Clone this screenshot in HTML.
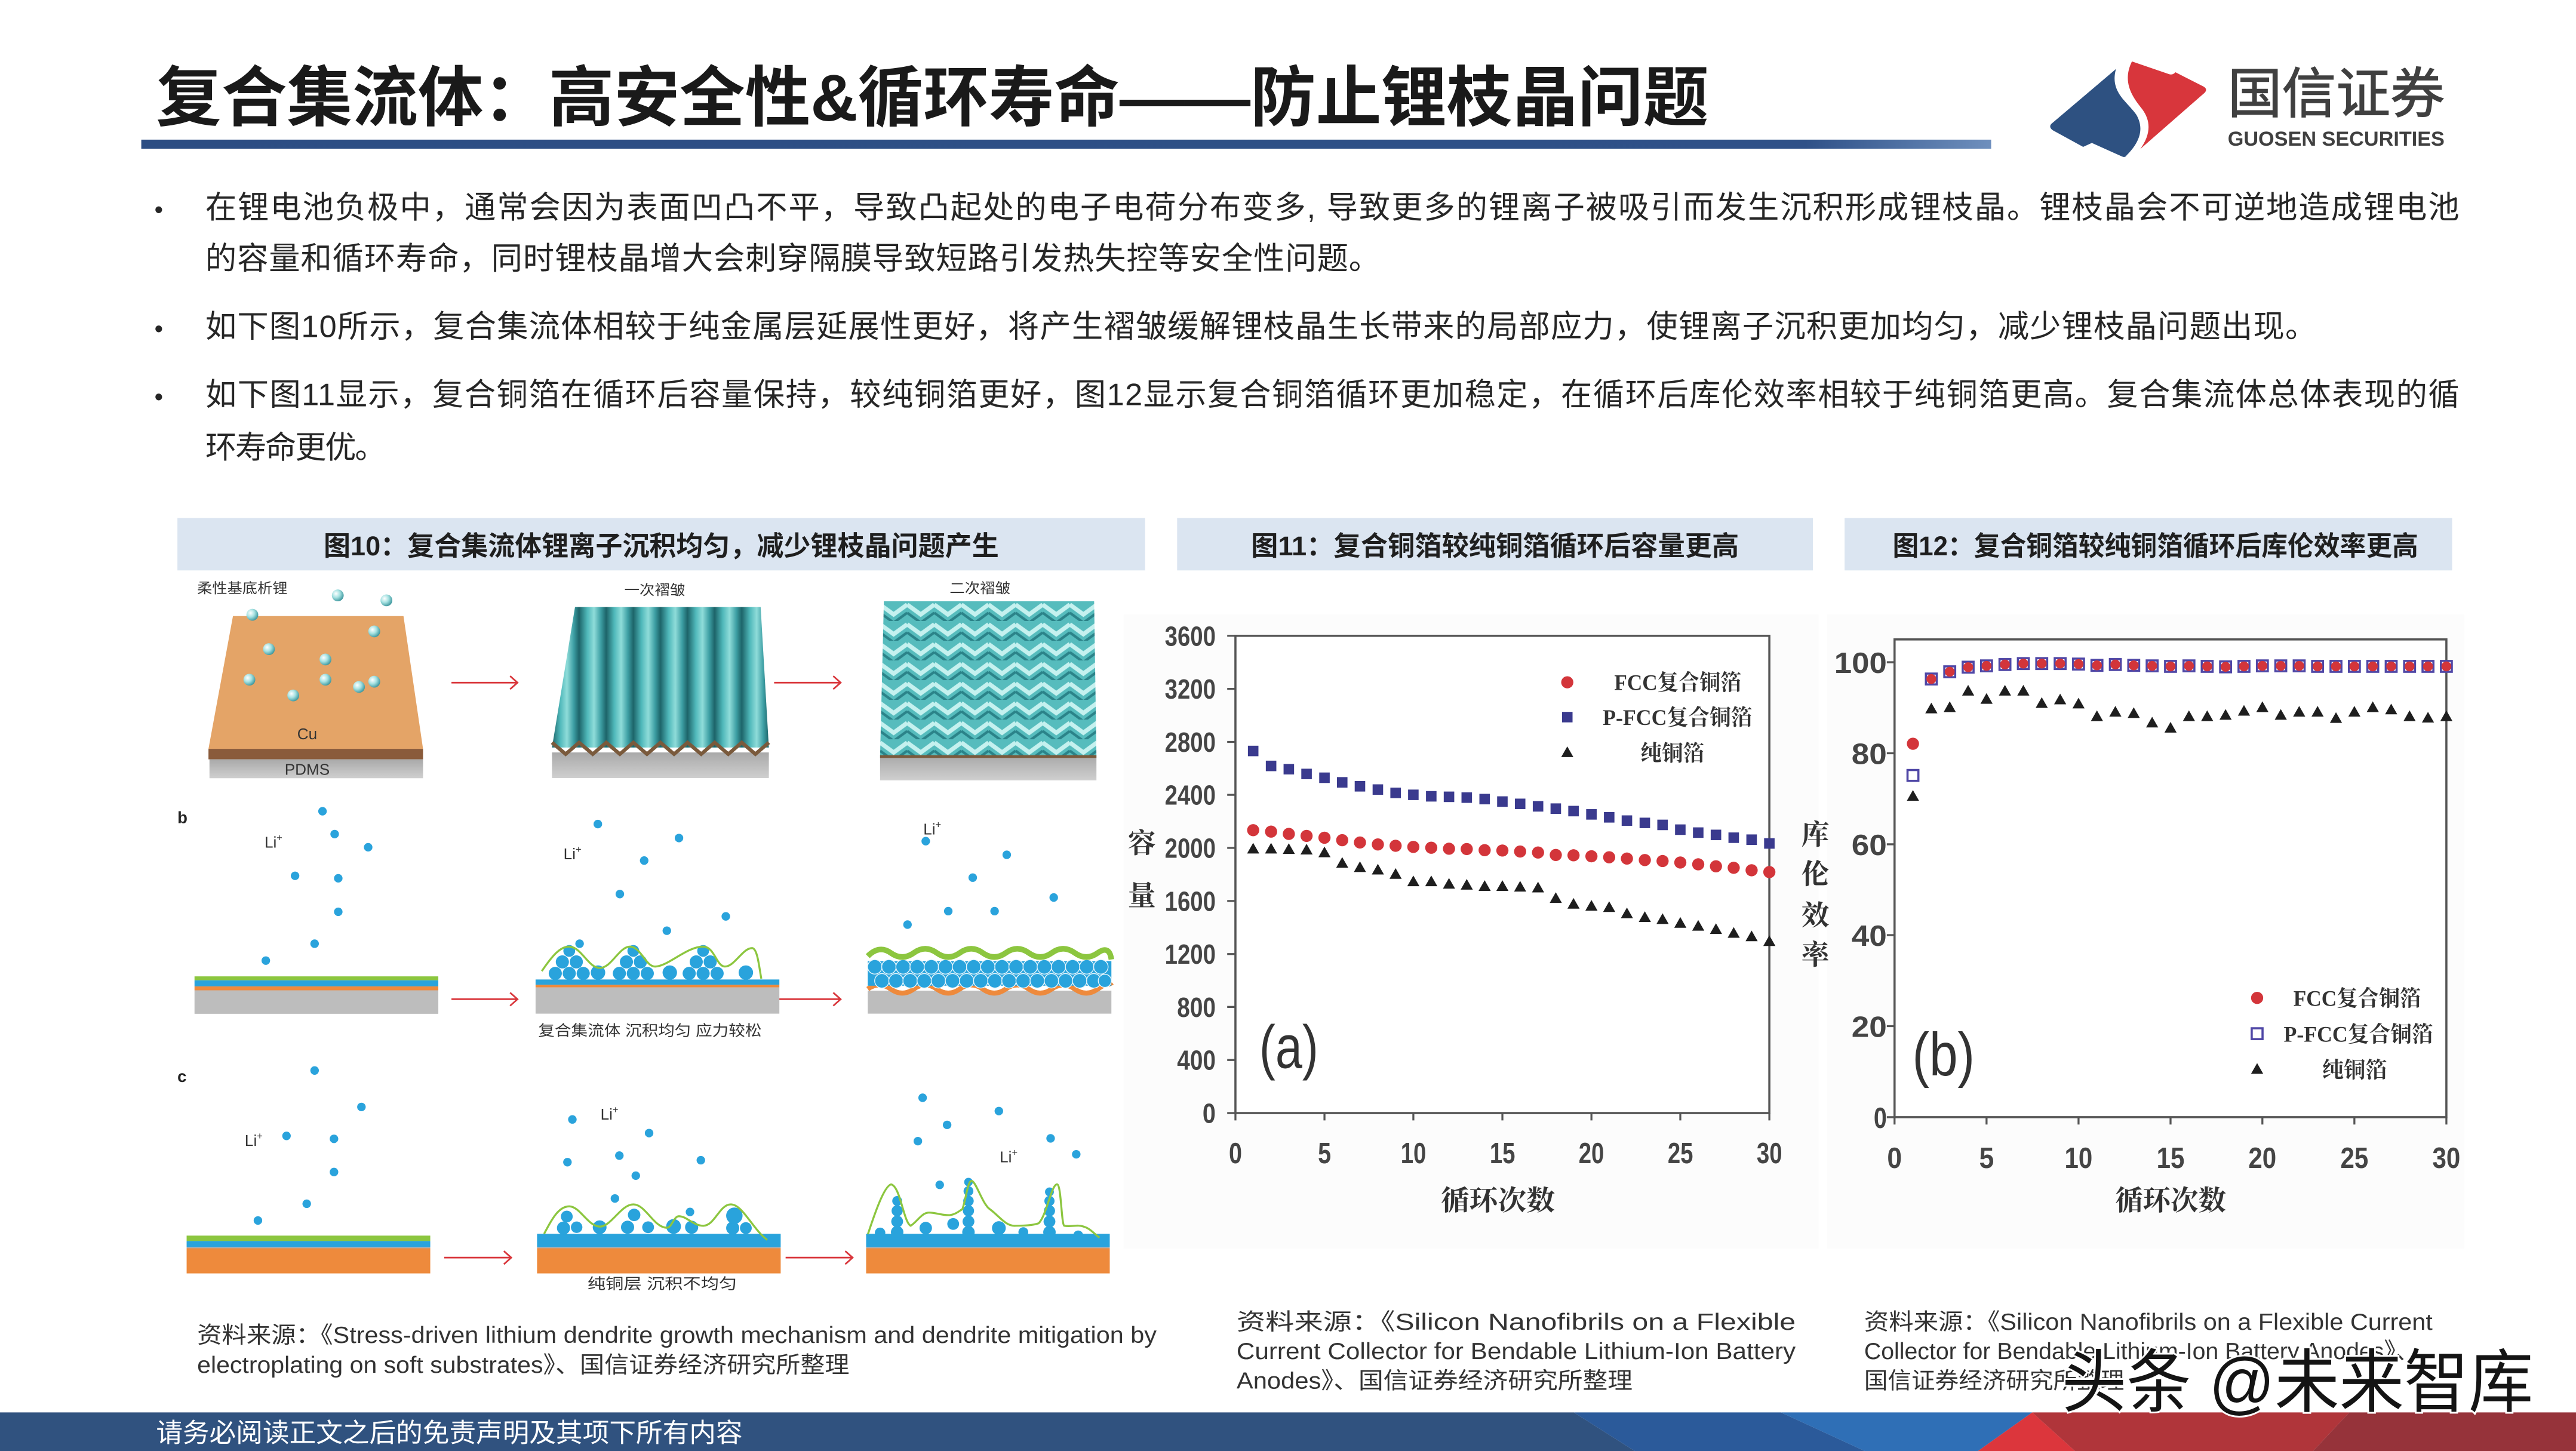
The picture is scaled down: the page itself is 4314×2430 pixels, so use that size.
<!DOCTYPE html>
<html><head><meta charset="utf-8">
<style>
html,body{margin:0;padding:0;background:#fff;}
body{width:4314px;height:2430px;overflow:hidden;}
svg{display:block;}
.cn{font-family:"Liberation Sans","Noto Sans CJK SC",sans-serif;}
.sf{font-family:"Liberation Serif","Noto Serif CJK SC",serif;font-weight:bold;}
.ax{font-family:"Liberation Sans",sans-serif;font-weight:bold;fill:#454545;}
</style></head>
<body>
<svg xmlns="http://www.w3.org/2000/svg" width="4314" height="2430" viewBox="0 0 1568 883.2" preserveAspectRatio="none">
<defs>
  <linearGradient id="bar" x1="0" x2="1" y1="0" y2="0">
    <stop offset="0" stop-color="#2c4d83"/><stop offset="0.9" stop-color="#2f5188"/><stop offset="1" stop-color="#6e8fbd"/>
  </linearGradient>
  <radialGradient id="ball" cx="0.35" cy="0.35" r="0.75">
    <stop offset="0" stop-color="#ffffff"/><stop offset="0.45" stop-color="#a6e2e2"/><stop offset="1" stop-color="#2c8a92"/>
  </radialGradient>
  <linearGradient id="ridge" gradientUnits="userSpaceOnUse" x1="336" y1="0" x2="352.5" y2="0" spreadMethod="repeat">
    <stop offset="0" stop-color="#1d6469"/><stop offset="0.3" stop-color="#4fb8ba"/><stop offset="0.55" stop-color="#8fdcd9"/><stop offset="0.8" stop-color="#3d9fa4"/><stop offset="1" stop-color="#1d6469"/>
  </linearGradient>
  <linearGradient id="grayb" x1="0" x2="0" y1="0" y2="1">
    <stop offset="0" stop-color="#a9a9a9"/><stop offset="1" stop-color="#cfcfcf"/>
  </linearGradient>
  <pattern id="chev" patternUnits="userSpaceOnUse" x="535.7" y="366" width="16.5" height="12">
    <rect width="16.5" height="12" fill="#56bcbd"/>
    <path d="M0,2 L8.25,8 L16.5,2" stroke="#c5f1ef" stroke-width="2.6" fill="none"/>
    <path d="M0,7 L8.25,13 L16.5,7" stroke="#2b8389" stroke-width="1.6" fill="none"/>
  </pattern>
  <g id="ca"><circle r="3.7" fill="#d3353a"/></g>
  <g id="sa"><rect x="-3.2" y="-3.2" width="6.4" height="6.4" fill="#3a3a8e"/></g>
  <g id="ta"><path d="M0,-3.9 L3.7,2.6 L-3.7,2.6 Z" fill="#1e1e1e"/></g>
  <g id="cb"><circle r="3" fill="#d3353a"/></g>
  <g id="sb"><rect x="-3.3" y="-3.3" width="6.6" height="6.6" fill="none" stroke="#4f47a6" stroke-width="1.3"/></g>
  <g id="bd"><circle r="2.6" fill="#2aa3dc"/></g>
  <g id="bl"><circle r="3.6" fill="url(#ball)"/></g>
</defs>

<rect x="0" y="0" width="1568" height="883.2" fill="#ffffff"/>

<!-- Title -->
<text class="cn" x="95" y="73.5" font-size="40" font-weight="bold" fill="#1a1a1a" textLength="945" lengthAdjust="spacingAndGlyphs">复合集流体：高安全性&amp;循环寿命——防止锂枝晶问题</text>
<rect x="86" y="85" width="1126" height="5.5" fill="url(#bar)"/>

<!-- Logo -->
<path d="M1288,42 L1248.5,75.5 Q1247,77.5 1249.5,79.3 L1268,89.4 L1273.3,87 L1291.5,95.2 Q1293.5,96.2 1294.5,94.5 C1303,86 1305,78 1300.5,70 C1295,62 1284,56 1288,42 Z" fill="#2e5181"/>
<path d="M1297.7,37.4 L1320.5,45.2 Q1322.5,45.8 1324.2,44 L1341.5,52.8 Q1344,54.5 1341.8,56.6 L1302.8,90.7 C1309,82 1309.5,74 1304,66.5 C1298,59 1291.5,50 1297.7,37.4 Z" fill="#d8363c"/>
<text class="cn" x="1356" y="68.5" font-size="33" fill="#404040" stroke="#404040" stroke-width="0.5" textLength="132" lengthAdjust="spacingAndGlyphs">国信证券</text>
<text x="1356" y="88.6" font-family="Liberation Sans, sans-serif" font-weight="bold" font-size="12.5" fill="#404040" textLength="132" lengthAdjust="spacingAndGlyphs">GUOSEN SECURITIES</text>

<!-- Bullets -->
<g class="cn" font-size="19" fill="#262626">
  <text x="94" y="132.7" font-size="15">•</text>
  <text x="125" y="132.7" textLength="1372">在锂电池负极中，通常会因为表面凹凸不平，导致凸起处的电子电荷分布变多, 导致更多的锂离子被吸引而发生沉积形成锂枝晶。锂枝晶会不可逆地造成锂电池</text>
  <text x="125" y="163.7" textLength="715">的容量和循环寿命，同时锂枝晶增大会刺穿隔膜导致短路引发热失控等安全性问题。</text>
  <text x="94" y="205.2" font-size="15">•</text>
  <text x="125" y="205.2" textLength="1285">如下图10所示，复合集流体相较于纯金属层延展性更好，将产生褶皱缓解锂枝晶生长带来的局部应力，使锂离子沉积更加均匀，减少锂枝晶问题出现。</text>
  <text x="94" y="246.7" font-size="15">•</text>
  <text x="125" y="246.7" textLength="1372">如下图11显示，复合铜箔在循环后容量保持，较纯铜箔更好，图12显示复合铜箔循环更加稳定，在循环后库伦效率相较于纯铜箔更高。复合集流体总体表现的循</text>
  <text x="125" y="278.7" textLength="110">环寿命更优。</text>
</g>

<!-- Figure header bars -->
<rect x="108" y="315.3" width="589" height="31.9" fill="#dbe5f1"/>
<rect x="716.5" y="315.3" width="387" height="31.9" fill="#dbe5f1"/>
<rect x="1122.8" y="315.3" width="369.8" height="31.9" fill="#dbe5f1"/>
<g class="cn" font-size="16.5" font-weight="bold" fill="#1f1f1f">
  <text x="197" y="338" textLength="411" lengthAdjust="spacingAndGlyphs">图10：复合集流体锂离子沉积均匀，减少锂枝晶问题产生</text>
  <text x="761.5" y="338" textLength="297" lengthAdjust="spacingAndGlyphs">图11：复合铜箔较纯铜箔循环后容量更高</text>
  <text x="1152" y="338" textLength="320" lengthAdjust="spacingAndGlyphs">图12：复合铜箔较纯铜箔循环后库伦效率更高</text>
</g>

<!-- ============ Figure 10 ============ -->
<!-- a1 -->
<text class="cn" x="120" y="361" font-size="8.5" fill="#333" textLength="55" lengthAdjust="spacingAndGlyphs">柔性基底析锂</text>
<polygon points="141.8,375 245.6,375 257.5,455.8 126.9,455.8" fill="#e4a467"/>
<rect x="126.9" y="455.8" width="130.6" height="6.4" fill="#8a5b3b"/>
<rect x="127.5" y="462.2" width="130" height="11.5" fill="url(#grayb)"/>
<text x="187" y="450" font-family="Liberation Sans, sans-serif" font-size="9.5" fill="#333" text-anchor="middle">Cu</text>
<text x="187" y="471.5" font-family="Liberation Sans, sans-serif" font-size="9.5" fill="#333" text-anchor="middle">PDMS</text>
<use href="#bl" x="153.6" y="374.2"/><use href="#bl" x="205.6" y="362.4"/><use href="#bl" x="235.2" y="365.4"/>
<use href="#bl" x="227.8" y="384.3"/><use href="#bl" x="163.7" y="395.1"/><use href="#bl" x="198.1" y="401.4"/>
<use href="#bl" x="151.8" y="413.7"/><use href="#bl" x="198.1" y="413.7"/><use href="#bl" x="218.5" y="418.1"/>
<use href="#bl" x="227.8" y="414.9"/><use href="#bl" x="178.5" y="423.3"/>
<!-- arrows row a -->
<g stroke="#d9363b" stroke-width="1" fill="none">
  <path d="M274.8,415.5 H315 M310.5,411.5 L315,415.5 L310.5,419.5"/>
  <path d="M471.2,415.5 H511.7 M507.2,411.5 L511.7,415.5 L507.2,419.5"/>
</g>
<!-- a2 -->
<text class="cn" x="380" y="362" font-size="8.5" fill="#333" textLength="37" lengthAdjust="spacingAndGlyphs">一次褶皱</text>
<polygon points="350,369.5 463,369.5 468,455 336,455" fill="url(#ridge)"/>
<rect x="336" y="458" width="132" height="15.6" fill="url(#grayb)"/>
<polyline points="336,452 344.3,459 352.5,452 360.8,459 369,452 377.3,459 385.5,452 393.8,459 402,452 410.3,459 418.5,452 426.8,459 435,452 443.3,459 451.5,452 459.8,459 468,452" fill="none" stroke="#7a5a3c" stroke-width="2.2"/>
<!-- a3 -->
<text class="cn" x="578" y="361" font-size="8.5" fill="#333" textLength="37" lengthAdjust="spacingAndGlyphs">二次褶皱</text>
<polygon points="538,366 666,366 667.4,460 535.7,460" fill="url(#chev)"/>
<rect x="535.7" y="460" width="131.7" height="15" fill="url(#grayb)"/>
<line x1="535.7" y1="460.5" x2="667.4" y2="460.5" stroke="#7a5a3c" stroke-width="1.6"/>

<!-- b -->
<text x="108" y="501" font-family="Liberation Sans, sans-serif" font-weight="bold" font-size="10" fill="#222">b</text>
<rect x="118.4" y="594.3" width="148.4" height="2.4" fill="#8cc63f"/>
<rect x="118.4" y="596.7" width="148.4" height="3.7" fill="#29a3dc"/>
<rect x="118.4" y="600.4" width="148.4" height="2.4" fill="#ee8a3c"/>
<rect x="118.4" y="602.8" width="148.4" height="14.3" fill="#bdbdbd"/>
<text x="161" y="516" font-family="Liberation Sans, sans-serif" font-size="9.5" fill="#333">Li<tspan dy="-4" font-size="6">+</tspan></text>
<use href="#bd" x="196.3" y="493.8"/><use href="#bd" x="203.7" y="507.7"/><use href="#bd" x="224.1" y="515.7"/>
<use href="#bd" x="179.6" y="533.1"/><use href="#bd" x="205.9" y="534.6"/><use href="#bd" x="205.9" y="555"/>
<use href="#bd" x="191.5" y="574.4"/><use href="#bd" x="161.8" y="584.7"/>
<g stroke="#d9363b" stroke-width="1" fill="none">
  <path d="M274.8,608.2 H315 M310.5,604.2 L315,608.2 L310.5,612.2"/>
  <path d="M471.2,608.2 H511.7 M507.2,604.2 L511.7,608.2 L507.2,612.2"/>
</g>
<!-- b2 -->
<rect x="326" y="596.2" width="148.4" height="3.2" fill="#29a3dc"/>
<rect x="326" y="599.4" width="148.4" height="1.6" fill="#ee8a3c"/>
<rect x="326" y="601" width="148.4" height="16" fill="#bdbdbd"/>
<g fill="#29a3dc">
  <circle cx="338" cy="592.5" r="4"/><circle cx="346.5" cy="592.5" r="4"/><circle cx="355" cy="592.5" r="4"/><circle cx="342.3" cy="585.5" r="4"/><circle cx="350.8" cy="585.5" r="4"/><circle cx="346.5" cy="578.8" r="3.6"/>
  <circle cx="364" cy="592" r="4.4"/>
  <circle cx="377" cy="592.5" r="4"/><circle cx="385.5" cy="592.5" r="4"/><circle cx="394" cy="592.5" r="4"/><circle cx="381.3" cy="585.5" r="4"/><circle cx="389.8" cy="585.5" r="4"/><circle cx="385.5" cy="578.8" r="3.6"/>
  <circle cx="407.7" cy="592" r="4.4"/>
  <circle cx="419.5" cy="592.5" r="4"/><circle cx="428" cy="592.5" r="4"/><circle cx="436.5" cy="592.5" r="4"/><circle cx="423.8" cy="585.5" r="4"/><circle cx="432.3" cy="585.5" r="4"/><circle cx="428" cy="578.8" r="3.6"/>
  <circle cx="454" cy="592" r="4.4"/>
</g>
<path d="M329.8,591.1 C336,582 341,576 346.5,576.2 C354,576.5 358,589 365,589.2 C372,589.4 377,576 383.6,576.2 C390,576.4 393,588 398.4,588.3 C406,588.8 418,576 428.1,576.2 C435,576.4 436,588 441.1,588.3 C447,588.6 452,577 457.8,577.1 C461,577.2 462,588 463.4,595.7" fill="none" stroke="#8cc63f" stroke-width="1.2"/>
<text class="cn" x="327.6" y="630.5" font-size="9" fill="#333" textLength="136" lengthAdjust="spacingAndGlyphs">复合集流体  沉积均匀  应力较松</text>
<text x="343" y="523" font-family="Liberation Sans, sans-serif" font-size="9.5" fill="#333">Li<tspan dy="-4" font-size="6">+</tspan></text>
<use href="#bd" x="363.9" y="501.6"/><use href="#bd" x="413.3" y="510.1"/><use href="#bd" x="392.1" y="523.8"/>
<use href="#bd" x="377.3" y="544.2"/><use href="#bd" x="441.8" y="557.8"/><use href="#bd" x="405.9" y="566.5"/><use href="#bd" x="352.8" y="574.4"/>
<!-- b3 -->
<rect x="528.2" y="603" width="148.3" height="14" fill="#bdbdbd"/>
<path d="M528.2,602 Q535.2,597 542.2,602 T556.2,602 T570.2,602 T584.2,602 T598.2,602 T612.2,602 T626.2,602 T640.2,602 T654.2,602 T668.2,602 T676.5,600" fill="none" stroke="#ee8a3c" stroke-width="3"/>
<rect x="528.2" y="585" width="148.3" height="15" fill="#29a3dc"/>
<g fill="#29a3dc" stroke="#e8f6fc" stroke-width="0.5">
  <circle cx="532.5" cy="588.5" r="4.4"/><circle cx="541.1" cy="588.5" r="4.4"/><circle cx="549.7" cy="588.5" r="4.4"/><circle cx="558.3" cy="588.5" r="4.4"/><circle cx="566.9" cy="588.5" r="4.4"/><circle cx="575.5" cy="588.5" r="4.4"/><circle cx="584.1" cy="588.5" r="4.4"/><circle cx="592.7" cy="588.5" r="4.4"/><circle cx="601.3" cy="588.5" r="4.4"/><circle cx="609.9" cy="588.5" r="4.4"/><circle cx="618.5" cy="588.5" r="4.4"/><circle cx="627.1" cy="588.5" r="4.4"/><circle cx="635.7" cy="588.5" r="4.4"/><circle cx="644.3" cy="588.5" r="4.4"/><circle cx="652.9" cy="588.5" r="4.4"/><circle cx="661.5" cy="588.5" r="4.4"/><circle cx="670.1" cy="588.5" r="4.4"/>
  <circle cx="536.8" cy="597" r="4.4"/><circle cx="545.4" cy="597" r="4.4"/><circle cx="554" cy="597" r="4.4"/><circle cx="562.6" cy="597" r="4.4"/><circle cx="571.2" cy="597" r="4.4"/><circle cx="579.8" cy="597" r="4.4"/><circle cx="588.4" cy="597" r="4.4"/><circle cx="597" cy="597" r="4.4"/><circle cx="605.6" cy="597" r="4.4"/><circle cx="614.2" cy="597" r="4.4"/><circle cx="622.8" cy="597" r="4.4"/><circle cx="631.4" cy="597" r="4.4"/><circle cx="640" cy="597" r="4.4"/><circle cx="648.6" cy="597" r="4.4"/><circle cx="657.2" cy="597" r="4.4"/><circle cx="665.8" cy="597" r="4.4"/><circle cx="672.5" cy="597" r="4"/>
</g>
<path d="M528.2,582 Q535.2,575 542.2,580 T556.2,580 T570.2,580 T584.2,580 T598.2,580 T612.2,580 T626.2,580 T640.2,580 T654.2,580 T668.2,580 T676.5,584" fill="none" stroke="#8cc63f" stroke-width="3.4"/>
<text x="562" y="508" font-family="Liberation Sans, sans-serif" font-size="9.5" fill="#333">Li<tspan dy="-4" font-size="6">+</tspan></text>
<use href="#bd" x="563.5" y="512"/><use href="#bd" x="612.8" y="520.3"/><use href="#bd" x="592.1" y="534.2"/>
<use href="#bd" x="641.4" y="546.3"/><use href="#bd" x="577.2" y="554.6"/><use href="#bd" x="605.4" y="554.6"/><use href="#bd" x="552.4" y="562.8"/>

<!-- c -->
<text x="108" y="658.5" font-family="Liberation Sans, sans-serif" font-weight="bold" font-size="10" fill="#222">c</text>
<rect x="113.6" y="752.1" width="148.3" height="3.3" fill="#8cc63f"/>
<rect x="113.6" y="755.4" width="148.3" height="3.6" fill="#29a3dc"/>
<rect x="113.6" y="759" width="148.3" height="0.8" fill="#a9a9a9"/>
<rect x="113.6" y="759.8" width="148.3" height="15.3" fill="#ee8a3c"/>
<text x="149" y="697.5" font-family="Liberation Sans, sans-serif" font-size="9.5" fill="#333">Li<tspan dy="-4" font-size="6">+</tspan></text>
<use href="#bd" x="191.5" y="651.6"/><use href="#bd" x="220" y="673.8"/><use href="#bd" x="174.4" y="691.4"/>
<use href="#bd" x="203.3" y="693.2"/><use href="#bd" x="203.3" y="713.4"/><use href="#bd" x="186.7" y="732.7"/><use href="#bd" x="157" y="742.9"/>
<g stroke="#d9363b" stroke-width="1" fill="none">
  <path d="M270.4,765.5 H311.2 M306.7,761.5 L311.2,765.5 L306.7,769.5"/>
  <path d="M478.2,765.5 H519 M514.5,761.5 L519,765.5 L514.5,769.5"/>
</g>
<!-- c2 -->
<rect x="326.9" y="751" width="148.3" height="8" fill="#29a3dc"/>
<rect x="326.9" y="759" width="148.3" height="0.8" fill="#a9a9a9"/>
<rect x="326.9" y="759.8" width="148.3" height="15.3" fill="#ee8a3c"/>
<g fill="#29a3dc">
  <circle cx="343" cy="747.5" r="4"/><circle cx="345" cy="740.5" r="3.6"/><circle cx="351" cy="747" r="3.5"/><circle cx="365" cy="747" r="4.2"/>
  <circle cx="382" cy="747" r="4"/><circle cx="386" cy="739.5" r="3.8"/><circle cx="394.5" cy="747" r="3.6"/>
  <circle cx="410" cy="746.5" r="4.5"/><circle cx="421" cy="747" r="4"/>
  <circle cx="446" cy="747.5" r="4"/><circle cx="447" cy="740" r="5"/><circle cx="454" cy="747.5" r="3.6"/>
</g>
<path d="M331.2,751 C336,742 340,734.3 346.5,734.3 C353,734.3 358,746.6 365.2,746.6 C372,746.6 378,733.1 385.5,733.1 C393,733.1 398,747.3 405.9,747.3 C409,747.3 410,740.3 413.3,740.3 C418,740.3 422,746.1 428.1,746.1 C435,746.1 438,733.1 444.8,733.1 C452,733.1 458,748 467,754.7" fill="none" stroke="#8cc63f" stroke-width="1.2"/>
<text class="cn" x="357.6" y="784.5" font-size="9" fill="#333" textLength="91" lengthAdjust="spacingAndGlyphs">纯铜层    沉积不均匀</text>
<text x="365.5" y="681.5" font-family="Liberation Sans, sans-serif" font-size="9.5" fill="#333">Li<tspan dy="-4" font-size="6">+</tspan></text>
<use href="#bd" x="348.4" y="681.4"/><use href="#bd" x="395.1" y="689.7"/><use href="#bd" x="377" y="703.4"/>
<use href="#bd" x="345.4" y="707.4"/><use href="#bd" x="426.6" y="706.2"/><use href="#bd" x="387" y="715.6"/><use href="#bd" x="374.3" y="729.5"/><use href="#bd" x="420" y="737.7"/>
<!-- c3 -->
<rect x="527.2" y="751" width="148.3" height="8" fill="#29a3dc"/>
<rect x="527.2" y="759" width="148.3" height="0.8" fill="#a9a9a9"/>
<rect x="527.2" y="759.8" width="148.3" height="15.3" fill="#ee8a3c"/>
<g fill="#29a3dc">
  <circle cx="546.1" cy="750" r="3.8"/><circle cx="546.1" cy="743.5" r="3.6"/><circle cx="546.1" cy="737" r="3.4"/><circle cx="546.1" cy="731" r="3"/>
  <circle cx="589.5" cy="750" r="3.8"/><circle cx="589.5" cy="743.5" r="3.6"/><circle cx="589.5" cy="737" r="3.4"/><circle cx="589.5" cy="731" r="3.2"/><circle cx="589.5" cy="725" r="3"/><circle cx="589.5" cy="719.5" r="2.6"/>
  <circle cx="638.8" cy="750" r="3.8"/><circle cx="638.8" cy="743.5" r="3.6"/><circle cx="638.8" cy="737" r="3.4"/><circle cx="638.8" cy="731" r="3.1"/><circle cx="638.8" cy="725.5" r="2.7"/>
  <circle cx="563.5" cy="747.5" r="3.8"/><circle cx="580.2" cy="745" r="3.6"/><circle cx="608" cy="747.5" r="4.2"/><circle cx="622.9" cy="750" r="3"/><circle cx="656.3" cy="752" r="3"/><circle cx="535.7" cy="750.4" r="3.2"/>
</g>
<path d="M528.3,751.2 C532,740 538,722 542.4,720.9 C548,722 550,744 554.3,746.1 C558,744 561,738.1 565.4,738.1 C570,738.1 574,740 578.4,739.6 C582,739 584,737 585.8,736 C588,730 589,718.8 591.4,718.8 C594,718.8 598,733 602.5,736 C608,740 612,746.1 617.4,746.1 C623,746 628,746 632.2,744.6 C637,740 640,720.9 643.4,720.9 C646,720.9 646,745 647.8,746.1 C652,747 656,745 660.1,746.8 C664,748 667,752 669.3,753.3" fill="none" stroke="#8cc63f" stroke-width="1.2"/>
<text x="608.5" y="707.5" font-family="Liberation Sans, sans-serif" font-size="9.5" fill="#333">Li<tspan dy="-4" font-size="6">+</tspan></text>
<use href="#bd" x="561.6" y="668.2"/><use href="#bd" x="608" y="676.3"/><use href="#bd" x="576.5" y="684.7"/>
<use href="#bd" x="558.7" y="694.6"/><use href="#bd" x="639.5" y="692.9"/><use href="#bd" x="655.1" y="702.6"/><use href="#bd" x="572" y="721.2"/>

<!-- source fig10 -->
<g class="cn" font-size="14" fill="#333">
  <text x="120" y="817.5" textLength="584" lengthAdjust="spacingAndGlyphs">资料来源：《Stress-driven lithium dendrite growth mechanism and dendrite mitigation by</text>
  <text x="120" y="835.5" textLength="397" lengthAdjust="spacingAndGlyphs">electroplating on soft substrates》、国信证券经济研究所整理</text>
</g>

<!-- ============ Chart (a) ============ -->
<rect x="684" y="374" width="423" height="386" fill="#fcfcfc"/>
<rect x="752" y="387" width="325" height="290.5" fill="#ffffff" stroke="#555" stroke-width="1.3"/>
<g stroke="#555" stroke-width="1.2">
  <path d="M747,387 H752 M747,419.3 H752 M747,451.6 H752 M747,483.8 H752 M747,516.1 H752 M747,548.4 H752 M747,580.7 H752 M747,612.9 H752 M747,645.2 H752 M747,677.5 H752"/>
  <path d="M752,677.5 V682 M806.2,677.5 V682 M860.3,677.5 V682 M914.5,677.5 V682 M968.7,677.5 V682 M1022.8,677.5 V682 M1077,677.5 V682"/>
</g>
<g class="ax" font-size="17">
  <text x="709" y="393" textLength="31" lengthAdjust="spacingAndGlyphs">3600</text>
  <text x="709" y="425.3" textLength="31" lengthAdjust="spacingAndGlyphs">3200</text>
  <text x="709" y="457.6" textLength="31" lengthAdjust="spacingAndGlyphs">2800</text>
  <text x="709" y="489.8" textLength="31" lengthAdjust="spacingAndGlyphs">2400</text>
  <text x="709" y="522.1" textLength="31" lengthAdjust="spacingAndGlyphs">2000</text>
  <text x="709" y="554.4" textLength="31" lengthAdjust="spacingAndGlyphs">1600</text>
  <text x="709" y="586.7" textLength="31" lengthAdjust="spacingAndGlyphs">1200</text>
  <text x="716.5" y="618.9" textLength="23.5" lengthAdjust="spacingAndGlyphs">800</text>
  <text x="716.5" y="651.2" textLength="23.5" lengthAdjust="spacingAndGlyphs">400</text>
  <text x="732" y="683.5" textLength="8" lengthAdjust="spacingAndGlyphs">0</text>
</g>
<g class="ax" font-size="18">
  <text x="748" y="708" textLength="8" lengthAdjust="spacingAndGlyphs">0</text>
  <text x="802.2" y="708" textLength="8" lengthAdjust="spacingAndGlyphs">5</text>
  <text x="852.6" y="708" textLength="15.5" lengthAdjust="spacingAndGlyphs">10</text>
  <text x="906.8" y="708" textLength="15.5" lengthAdjust="spacingAndGlyphs">15</text>
  <text x="960.9" y="708" textLength="15.5" lengthAdjust="spacingAndGlyphs">20</text>
  <text x="1015.1" y="708" textLength="15.5" lengthAdjust="spacingAndGlyphs">25</text>
  <text x="1069.3" y="708" textLength="15.5" lengthAdjust="spacingAndGlyphs">30</text>
</g>
<text class="sf" x="877" y="736.6" font-size="17" fill="#333" textLength="69.5" lengthAdjust="spacingAndGlyphs">循环次数</text>
<text class="sf" x="695" y="519" font-size="17" fill="#333" text-anchor="middle">容</text>
<text class="sf" x="695" y="551" font-size="17" fill="#333" text-anchor="middle">量</text>
<text x="766.5" y="650" font-family="Liberation Sans, sans-serif" font-size="37" fill="#333" textLength="36" lengthAdjust="spacingAndGlyphs">(a)</text>
<!-- legend a -->
<use href="#ca" x="954" y="415.3"/><use href="#sa" x="954" y="436.5"/><use href="#ta" x="954" y="458.2"/>
<g class="sf" font-size="13.5" fill="#333">
  <text x="982.6" y="420" textLength="77.4" lengthAdjust="spacingAndGlyphs">FCC复合铜箔</text>
  <text x="975.6" y="441.3" textLength="91" lengthAdjust="spacingAndGlyphs">P-FCC复合铜箔</text>
  <text x="998.6" y="463" textLength="38.8" lengthAdjust="spacingAndGlyphs">纯铜箔</text>
</g>
<!-- data a: FCC -->
<g>
<use href="#ca" x="762.8" y="505.3"/><use href="#ca" x="773.7" y="506.2"/><use href="#ca" x="784.5" y="507.6"/><use href="#ca" x="795.3" y="508.8"/><use href="#ca" x="806.2" y="509.9"/>
<use href="#ca" x="817" y="511.4"/><use href="#ca" x="827.8" y="512.8"/><use href="#ca" x="838.7" y="514"/><use href="#ca" x="849.5" y="514.8"/><use href="#ca" x="860.3" y="515.5"/>
<use href="#ca" x="871.2" y="516"/><use href="#ca" x="882" y="516.6"/><use href="#ca" x="892.8" y="516.8"/><use href="#ca" x="903.7" y="517.5"/><use href="#ca" x="914.5" y="517.7"/>
<use href="#ca" x="925.3" y="518.3"/><use href="#ca" x="936.2" y="518.9"/><use href="#ca" x="947" y="520.4"/><use href="#ca" x="957.8" y="520.6"/><use href="#ca" x="968.7" y="521.2"/>
<use href="#ca" x="979.5" y="521.8"/><use href="#ca" x="990.3" y="522.6"/><use href="#ca" x="1001.2" y="523.5"/><use href="#ca" x="1012" y="524.1"/><use href="#ca" x="1022.8" y="525"/>
<use href="#ca" x="1033.7" y="526.1"/><use href="#ca" x="1044.5" y="527.3"/><use href="#ca" x="1055.3" y="528.2"/><use href="#ca" x="1066.2" y="529.7"/><use href="#ca" x="1077" y="530.8"/>
</g>
<!-- P-FCC -->
<g>
<use href="#sa" x="762.8" y="457.1"/><use href="#sa" x="773.7" y="466.2"/><use href="#sa" x="784.5" y="468.2"/><use href="#sa" x="795.3" y="471.1"/><use href="#sa" x="806.2" y="473.4"/>
<use href="#sa" x="817" y="476.2"/><use href="#sa" x="827.8" y="478.6"/><use href="#sa" x="838.7" y="480.6"/><use href="#sa" x="849.5" y="482.6"/><use href="#sa" x="860.3" y="483.8"/>
<use href="#sa" x="871.2" y="484.7"/><use href="#sa" x="882" y="485"/><use href="#sa" x="892.8" y="485.5"/><use href="#sa" x="903.7" y="486.4"/><use href="#sa" x="914.5" y="487.9"/>
<use href="#sa" x="925.3" y="489.3"/><use href="#sa" x="936.2" y="490.8"/><use href="#sa" x="947" y="492.2"/><use href="#sa" x="957.8" y="493.7"/><use href="#sa" x="968.7" y="495.7"/>
<use href="#sa" x="979.5" y="497.5"/><use href="#sa" x="990.3" y="499.5"/><use href="#sa" x="1001.2" y="500.9"/><use href="#sa" x="1012" y="502.1"/><use href="#sa" x="1022.8" y="505"/>
<use href="#sa" x="1033.7" y="506.8"/><use href="#sa" x="1044.5" y="508.2"/><use href="#sa" x="1055.3" y="509.9"/><use href="#sa" x="1066.2" y="511.1"/><use href="#sa" x="1077" y="513.4"/>
</g>
<!-- pure Cu -->
<g>
<use href="#ta" x="762.8" y="516.9"/><use href="#ta" x="773.7" y="516.9"/><use href="#ta" x="784.5" y="517.2"/><use href="#ta" x="795.3" y="517.5"/><use href="#ta" x="806.2" y="519.2"/>
<use href="#ta" x="817" y="525.6"/><use href="#ta" x="827.8" y="528.2"/><use href="#ta" x="838.7" y="529.7"/><use href="#ta" x="849.5" y="532.3"/><use href="#ta" x="860.3" y="536.8"/>
<use href="#ta" x="871.2" y="536.8"/><use href="#ta" x="882" y="538.3"/><use href="#ta" x="892.8" y="538.9"/><use href="#ta" x="903.7" y="539.7"/><use href="#ta" x="914.5" y="539.7"/>
<use href="#ta" x="925.3" y="540.1"/><use href="#ta" x="936.2" y="540.6"/><use href="#ta" x="947" y="547"/><use href="#ta" x="957.8" y="550.5"/><use href="#ta" x="968.7" y="551.7"/>
<use href="#ta" x="979.5" y="552.5"/><use href="#ta" x="990.3" y="556.3"/><use href="#ta" x="1001.2" y="558.6"/><use href="#ta" x="1012" y="559.8"/><use href="#ta" x="1022.8" y="562.1"/>
<use href="#ta" x="1033.7" y="563.9"/><use href="#ta" x="1044.5" y="565.9"/><use href="#ta" x="1055.3" y="568.2"/><use href="#ta" x="1066.2" y="570.3"/><use href="#ta" x="1077" y="573.2"/>
</g>

<!-- ============ Chart (b) ============ -->
<rect x="1112" y="374" width="388" height="386" fill="#fcfcfc"/>
<rect x="1153.2" y="389.2" width="335.9" height="290.8" fill="#ffffff" stroke="#555" stroke-width="1.3"/>
<g stroke="#555" stroke-width="1.2">
  <path d="M1148.5,403.1 H1153.2 M1148.5,458.5 H1153.2 M1148.5,513.9 H1153.2 M1148.5,569.2 H1153.2 M1148.5,624.6 H1153.2 M1148.5,680 H1153.2"/>
  <path d="M1153.2,680 V684.5 M1209.2,680 V684.5 M1265.2,680 V684.5 M1321.2,680 V684.5 M1377.1,680 V684.5 M1433.1,680 V684.5 M1489.1,680 V684.5"/>
</g>
<g class="ax" font-size="18">
  <text x="1116.5" y="409.6" textLength="32" lengthAdjust="spacingAndGlyphs">100</text>
  <text x="1127" y="465" textLength="21.5" lengthAdjust="spacingAndGlyphs">80</text>
  <text x="1127" y="520.4" textLength="21.5" lengthAdjust="spacingAndGlyphs">60</text>
  <text x="1127" y="575.7" textLength="21.5" lengthAdjust="spacingAndGlyphs">40</text>
  <text x="1127" y="631.1" textLength="21.5" lengthAdjust="spacingAndGlyphs">20</text>
  <text x="1140.5" y="686.5" textLength="8" lengthAdjust="spacingAndGlyphs">0</text>
  <text x="1148.7" y="711" textLength="9" lengthAdjust="spacingAndGlyphs">0</text>
  <text x="1204.7" y="711" textLength="9" lengthAdjust="spacingAndGlyphs">5</text>
  <text x="1256.7" y="711" textLength="17" lengthAdjust="spacingAndGlyphs">10</text>
  <text x="1312.7" y="711" textLength="17" lengthAdjust="spacingAndGlyphs">15</text>
  <text x="1368.6" y="711" textLength="17" lengthAdjust="spacingAndGlyphs">20</text>
  <text x="1424.6" y="711" textLength="17" lengthAdjust="spacingAndGlyphs">25</text>
  <text x="1480.6" y="711" textLength="17" lengthAdjust="spacingAndGlyphs">30</text>
</g>
<text class="sf" x="1287.5" y="736.6" font-size="17" fill="#333" textLength="67.5" lengthAdjust="spacingAndGlyphs">循环次数</text>
<g class="sf" font-size="17" fill="#333" text-anchor="middle">
  <text x="1105" y="514">库</text>
  <text x="1105" y="538">伦</text>
  <text x="1105" y="563">效</text>
  <text x="1105" y="587">率</text>
</g>
<text x="1164" y="654.5" font-family="Liberation Sans, sans-serif" font-size="37" fill="#333" textLength="38" lengthAdjust="spacingAndGlyphs">(b)</text>
<!-- legend b -->
<use href="#ca" x="1373.9" y="607.4"/><use href="#sb" x="1373.9" y="629.2"/><use href="#ta" x="1373.9" y="651"/>
<g class="sf" font-size="13.5" fill="#333">
  <text x="1396" y="612.2" textLength="77.6" lengthAdjust="spacingAndGlyphs">FCC复合铜箔</text>
  <text x="1390.1" y="634" textLength="90.9" lengthAdjust="spacingAndGlyphs">P-FCC复合铜箔</text>
  <text x="1413.5" y="655.8" textLength="39.5" lengthAdjust="spacingAndGlyphs">纯铜箔</text>
</g>
<!-- P-FCC squares -->
<g>
<use href="#sb" x="1164.4" y="472"/><use href="#sb" x="1175.6" y="413.3"/><use href="#sb" x="1186.8" y="408.9"/><use href="#sb" x="1198" y="406.1"/><use href="#sb" x="1209.2" y="405.3"/>
<use href="#sb" x="1220.4" y="404.5"/><use href="#sb" x="1231.6" y="403.9"/><use href="#sb" x="1242.8" y="403.9"/><use href="#sb" x="1254" y="403.9"/><use href="#sb" x="1265.2" y="404.2"/>
<use href="#sb" x="1276.4" y="405"/><use href="#sb" x="1287.6" y="404.5"/><use href="#sb" x="1298.8" y="405"/><use href="#sb" x="1310" y="405.3"/><use href="#sb" x="1321.2" y="405.6"/>
<use href="#sb" x="1332.4" y="405.3"/><use href="#sb" x="1343.5" y="405.6"/><use href="#sb" x="1354.7" y="405.9"/><use href="#sb" x="1365.9" y="405.6"/><use href="#sb" x="1377.1" y="405.3"/>
<use href="#sb" x="1388.3" y="405.3"/><use href="#sb" x="1399.5" y="405.3"/><use href="#sb" x="1410.7" y="405.6"/><use href="#sb" x="1421.9" y="405.6"/><use href="#sb" x="1433.1" y="405.6"/>
<use href="#sb" x="1444.3" y="405.6"/><use href="#sb" x="1455.5" y="405.6"/><use href="#sb" x="1466.7" y="405.6"/><use href="#sb" x="1477.9" y="405.6"/><use href="#sb" x="1489.1" y="405.6"/>
</g>
<!-- FCC circles -->
<g>
<use href="#ca" x="1164.4" y="452.7"/><use href="#cb" x="1175.6" y="413.3"/><use href="#cb" x="1186.8" y="408.9"/><use href="#cb" x="1198" y="406.1"/><use href="#cb" x="1209.2" y="405.3"/>
<use href="#cb" x="1220.4" y="404.5"/><use href="#cb" x="1231.6" y="403.9"/><use href="#cb" x="1242.8" y="403.9"/><use href="#cb" x="1254" y="403.9"/><use href="#cb" x="1265.2" y="404.2"/>
<use href="#cb" x="1276.4" y="405"/><use href="#cb" x="1287.6" y="404.5"/><use href="#cb" x="1298.8" y="405"/><use href="#cb" x="1310" y="405.3"/><use href="#cb" x="1321.2" y="405.6"/>
<use href="#cb" x="1332.4" y="405.3"/><use href="#cb" x="1343.5" y="405.6"/><use href="#cb" x="1354.7" y="405.9"/><use href="#cb" x="1365.9" y="405.6"/><use href="#cb" x="1377.1" y="405.3"/>
<use href="#cb" x="1388.3" y="405.3"/><use href="#cb" x="1399.5" y="405.3"/><use href="#cb" x="1410.7" y="405.6"/><use href="#cb" x="1421.9" y="405.6"/><use href="#cb" x="1433.1" y="405.6"/>
<use href="#cb" x="1444.3" y="405.6"/><use href="#cb" x="1455.5" y="405.6"/><use href="#cb" x="1466.7" y="405.6"/><use href="#cb" x="1477.9" y="405.6"/><use href="#cb" x="1489.1" y="405.6"/>
</g>
<!-- pure Cu triangles -->
<g>
<use href="#ta" x="1164.4" y="484.8"/><use href="#ta" x="1175.6" y="431.6"/><use href="#ta" x="1186.8" y="430.8"/><use href="#ta" x="1198" y="420.8"/><use href="#ta" x="1209.2" y="425.8"/>
<use href="#ta" x="1220.4" y="420.8"/><use href="#ta" x="1231.6" y="420.8"/><use href="#ta" x="1242.8" y="428.3"/><use href="#ta" x="1254" y="426.1"/><use href="#ta" x="1265.2" y="428.6"/>
<use href="#ta" x="1276.4" y="436.3"/><use href="#ta" x="1287.6" y="433.6"/><use href="#ta" x="1298.8" y="434.4"/><use href="#ta" x="1310" y="440.2"/><use href="#ta" x="1321.2" y="443.3"/>
<use href="#ta" x="1332.4" y="436.3"/><use href="#ta" x="1343.5" y="436.3"/><use href="#ta" x="1354.7" y="435.5"/><use href="#ta" x="1365.9" y="433"/><use href="#ta" x="1377.1" y="430.8"/>
<use href="#ta" x="1388.3" y="435.5"/><use href="#ta" x="1399.5" y="433.6"/><use href="#ta" x="1410.7" y="433.6"/><use href="#ta" x="1421.9" y="437.4"/><use href="#ta" x="1433.1" y="433.6"/>
<use href="#ta" x="1444.3" y="430.8"/><use href="#ta" x="1455.5" y="432.2"/><use href="#ta" x="1466.7" y="436.3"/><use href="#ta" x="1477.9" y="437.2"/><use href="#ta" x="1489.1" y="436.3"/>
</g>

<!-- sources fig11/12 -->
<g class="cn" font-size="14" fill="#333">
  <text x="752.7" y="809.5" textLength="340.3" lengthAdjust="spacingAndGlyphs">资料来源：《Silicon Nanofibrils on a Flexible</text>
  <text x="752.7" y="827.3" textLength="340.3" lengthAdjust="spacingAndGlyphs">Current Collector for Bendable Lithium-Ion Battery</text>
  <text x="752.7" y="845.3" textLength="241" lengthAdjust="spacingAndGlyphs">Anodes》、国信证券经济研究所整理</text>
  <text x="1134.7" y="809.5" textLength="346" lengthAdjust="spacingAndGlyphs">资料来源：《Silicon Nanofibrils on a Flexible Current</text>
  <text x="1134.7" y="827.3" textLength="337.8" lengthAdjust="spacingAndGlyphs">Collector for Bendable Lithium-Ion Battery Anodes》、</text>
  <text x="1134.7" y="845.3" textLength="158.3" lengthAdjust="spacingAndGlyphs">国信证券经济研究所整理</text>
</g>

<!-- Footer -->
<polygon points="0,859.7 958,859.7 995,883.2 0,883.2" fill="#30527f"/>
<polygon points="958,859.7 1084,859.7 1135,883.2 995,883.2" fill="#2b5a9a"/>
<polygon points="1084,859.7 1237,859.7 1204,883.2 1135,883.2" fill="#2f6fb6"/>
<polygon points="1237,859.7 1263,883.2 1204,883.2" fill="#dc363c"/>
<polygon points="1237,859.7 1430,859.7 1408,883.2 1263,883.2" fill="#b0353a"/>
<polygon points="1430,859.7 1568,859.7 1568,883.2 1408,883.2" fill="#96333a"/>
<text class="cn" x="95" y="877.5" font-size="16" fill="#ffffff" textLength="357" lengthAdjust="spacingAndGlyphs">请务必阅读正文之后的免责声明及其项下所有内容</text>

<!-- Watermark -->
<text class="cn" x="1255" y="856" font-size="42" fill="#141414" stroke="#ffffff" stroke-width="2.2" paint-order="stroke" textLength="287" lengthAdjust="spacingAndGlyphs">头条 @未来智库</text>
</svg>
</body></html>
